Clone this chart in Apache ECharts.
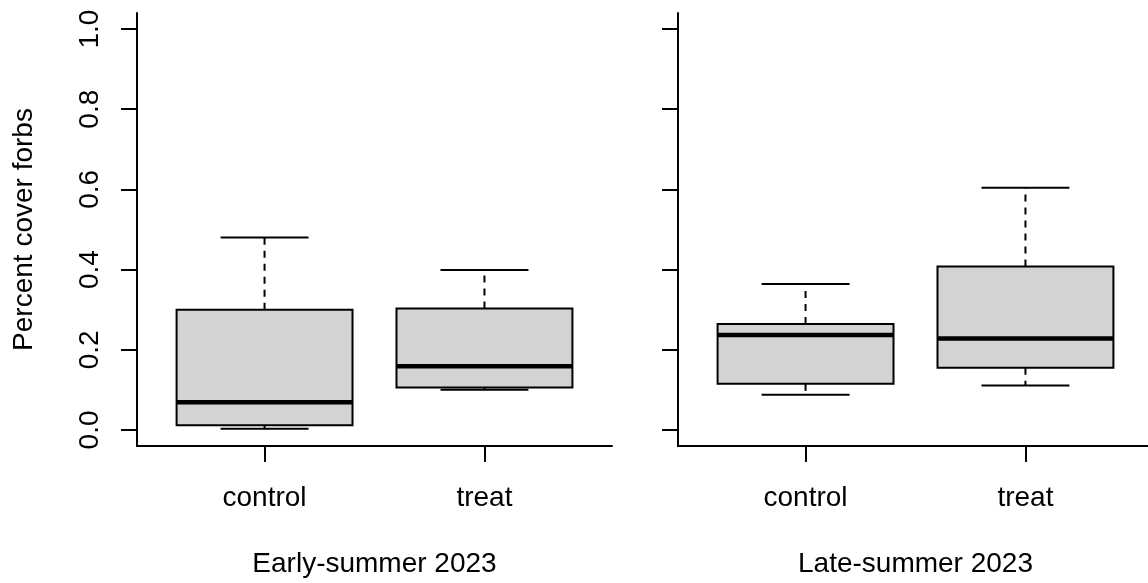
<!DOCTYPE html>
<html>
<head>
<meta charset="utf-8">
<script src="https://cdn.jsdelivr.net/npm/echarts@6/dist/echarts.min.js"></script>
<style>
html,body{margin:0;padding:0;background:#fff;}
#chart{width:1148px;height:583px;}
</style>
</head>
<body>
<div id="chart"></div>
<script>
// ---- data ----
var groups = ['control', 'treat'];
var periods = ['Early-summer 2023', 'Late-summer 2023'];
var yTicks = [0, 0.2, 0.4, 0.6, 0.8, 1.0];
var yLabel = 'Percent cover forbs';

var earlyLow  = [0.003, 0.100];
var earlyQ1   = [0.012, 0.106];
var earlyMed  = [0.069, 0.159];
var earlyQ3   = [0.300, 0.303];
var earlyHigh = [0.480, 0.399];

var lateLow  = [0.088, 0.111];
var lateQ1   = [0.115, 0.155];
var lateMed  = [0.237, 0.228];
var lateQ3   = [0.264, 0.408];
var lateHigh = [0.364, 0.604];

// ---- build ----
function rows(low, q1, med, q3, high) {
  return groups.map(function (g, i) { return [i + 1, low[i], q1[i], med[i], q3[i], high[i]]; });
}
var panels = [
  rows(earlyLow, earlyQ1, earlyMed, earlyQ3, earlyHigh),
  rows(lateLow, lateQ1, lateMed, lateQ3, lateHigh)
];

var FONT = '"Liberation Sans", Arial, Helvetica, sans-serif';
var FS = 28;
var BOXWEX = 0.8, STAPLE = 0.4;

function renderBox(params, api) {
  var x = api.value(0);
  var lo = api.coord([x, api.value(1)]);
  var q1 = api.coord([x, api.value(2)]);
  var md = api.coord([x, api.value(3)]);
  var q3 = api.coord([x, api.value(4)]);
  var hi = api.coord([x, api.value(5)]);
  var bw = api.size([BOXWEX, 0])[0];
  var sw = api.size([STAPLE, 0])[0];
  var cx = lo[0];
  var line = {stroke: '#000', lineWidth: 2};
  var dash = {stroke: '#000', lineWidth: 2, lineDash: [7, 6]};
  return {
    type: 'group',
    children: [
      {type: 'line', shape: {x1: cx, y1: q3[1], x2: cx, y2: hi[1]}, style: dash},
      {type: 'line', shape: {x1: cx, y1: q1[1], x2: cx, y2: lo[1]}, style: dash},
      {type: 'line', shape: {x1: cx - sw / 2, y1: hi[1], x2: cx + sw / 2, y2: hi[1]}, style: line},
      {type: 'line', shape: {x1: cx - sw / 2, y1: lo[1], x2: cx + sw / 2, y2: lo[1]}, style: line},
      {type: 'rect', shape: {x: cx - bw / 2, y: q3[1], width: bw, height: q1[1] - q3[1]},
        style: {fill: '#D3D3D3', stroke: '#000', lineWidth: 2}},
      {type: 'line', shape: {x1: cx - bw / 2, y1: md[1], x2: cx + bw / 2, y2: md[1]},
        style: {stroke: '#000', lineWidth: 4.5}}
    ]
  };
}

var grids = [
  {left: 137, top: 13, width: 475, height: 433, outerBoundsMode: 'none', containLabel: false},
  {left: 678, top: 13, width: 475, height: 433, outerBoundsMode: 'none', containLabel: false}
];

var xAxes = [], yAxes = [], series = [];
for (var p = 0; p < 2; p++) {
  xAxes.push({
    type: 'value', gridIndex: p, min: 0.42, max: 2.58,
    name: periods[p], nameLocation: 'middle', nameGap: 104,
    nameTextStyle: {fontFamily: FONT, fontSize: FS, color: '#000'},
    axisLine: {show: true, onZero: false, lineStyle: {color: '#000', width: 2}},
    axisTick: {show: true, length: 16, customValues: [1, 2], lineStyle: {color: '#000', width: 2}},
    axisLabel: {show: true, customValues: [1, 2], margin: 38,
      fontFamily: FONT, fontSize: FS, color: '#000',
      formatter: function (v) { return groups[Math.round(v) - 1]; }},
    splitLine: {show: false}
  });
  yAxes.push({
    type: 'value', gridIndex: p, min: -0.04, max: 1.04,
    name: p === 0 ? yLabel : '', nameLocation: 'middle', nameGap: 99, nameRotate: 90,
    nameTextStyle: {fontFamily: FONT, fontSize: FS, color: '#000'},
    axisLine: {show: true, onZero: false, lineStyle: {color: '#000', width: 2}},
    axisTick: {show: true, length: 16, customValues: yTicks, lineStyle: {color: '#000', width: 2}},
    axisLabel: {show: p === 0, customValues: yTicks, rotate: 90, margin: 33,
      fontFamily: FONT, fontSize: FS, color: '#000',
      formatter: function (v) { return v.toFixed(1); }},
    splitLine: {show: false}
  });
  series.push({
    type: 'custom', xAxisIndex: p, yAxisIndex: p,
    renderItem: renderBox, data: panels[p],
    encode: {x: 0, y: [1, 2, 3, 4, 5]}, clip: false, silent: true
  });
}

var chart = echarts.init(document.getElementById('chart'), null, {renderer: 'canvas'});
chart.setOption({
  backgroundColor: '#fff',
  animation: false,
  grid: grids,
  xAxis: xAxes,
  yAxis: yAxes,
  series: series
});
</script>
</body>
</html>
